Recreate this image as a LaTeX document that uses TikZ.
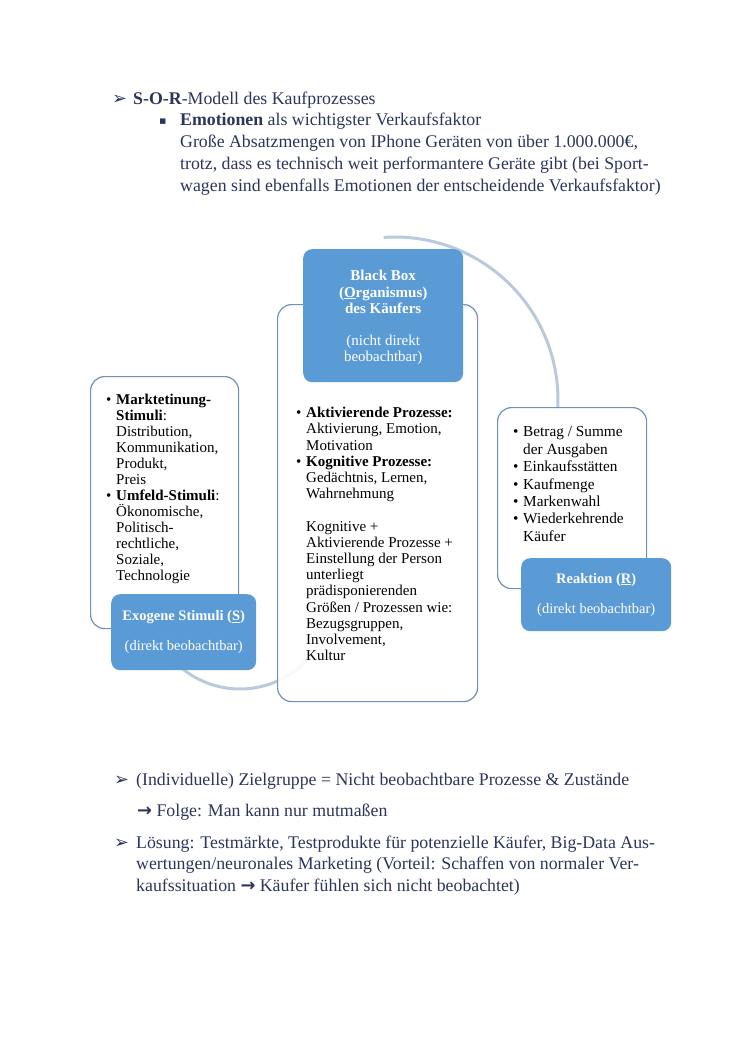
\documentclass[tikz,border=0pt]{standalone}
\usepackage{fontspec}
\setmainfont{Liberation Serif}
\newfontfamily\symfont{DejaVu Sans}
\definecolor{txtblue}{RGB}{44,54,92}
\definecolor{boxline}{RGB}{112,146,186}
\definecolor{arcgray}{RGB}{186,202,220}
\definecolor{labelblue}{RGB}{91,155,213}
\newcommand{\bul}{\makebox[10pt][l]{•}}
\newcommand{\ind}{\hspace*{10pt}}
\newcommand{\pfeil}{{\symfont\char"27A2}}
\begin{document}
\begin{tikzpicture}[x=1pt,y=-1pt,
  outtxt/.style={inner sep=0pt,text=txtblue,font=\fontsize{17.8}{21.7}\selectfont,anchor=base west},
  whitebox/.style={draw=boxline,line width=1.2pt,fill=white,fill opacity=0.9,rounded corners=14pt,anchor=north west,inner sep=0pt},
  labelbox/.style={fill=labelblue,rounded corners=9pt,anchor=north west,inner sep=0pt},
  arcline/.style={draw=arcgray,line width=3pt},
  boxtxt/.style={inner sep=0pt,align=left,anchor=north west}]
  \useasboundingbox[fill=white] (0,0) rectangle (750,1059);
  % text above the model
  \node[outtxt] (topmark) at (112,105) {\pfeil};
  \node[outtxt] (toptitle) at (133,105) {\textbf{S-O-R}-Modell des Kaufprozesses};
  \node[outtxt] (subbul) at (159,125) {{\symfont\fontsize{11}{11}\selectfont ▪}};
  \node[outtxt] (subtitle) at (180,126) {\textbf{Emotionen} als wichtigster Verkaufsfaktor};
  \foreach \y/\s [count=\i] in {148/{Große Absatzmengen von IPhone Geräten von über 1.000.000€,},
      170/{trotz, dass es technisch weit performantere Geräte gibt (bei Sport-},
      192/{wagen sind ebenfalls Emotionen der entscheidende Verkaufsfaktor)}} {
    \node[outtxt] (topline\i) at (180,\y) {\s};
  }
  % cycle arcs
  \draw[arcline] plot[domain=20:160,samples=50] ({240+92*cos(\x)},{597+92*sin(\x)});
  \draw[arcline] plot[domain=-94:3,samples=60] ({395+163*cos(\x)},{400+163*sin(\x)});
  % boxes
  \node[whitebox,minimum width=148pt,minimum height=252pt] (sbox) at (90,376) {};
  \node[whitebox,minimum width=200pt,minimum height=397pt] (obox) at (277,304) {};
  \node[whitebox,minimum width=149pt,minimum height=181pt] (rbox) at (497,407) {};
  \node[labelbox,minimum width=145pt,minimum height=76pt] (slabel) at (111,594) {};
  \node[labelbox,minimum width=160pt,minimum height=133pt] (olabel) at (303,249) {};
  \node[labelbox,minimum width=150pt,minimum height=73pt] (rlabel) at (521,558) {};
  % label texts
  \node[inner sep=0pt,align=center,text=white,font=\fontsize{15}{16.5}\selectfont,anchor=north]
    (otitle) at (olabel.north |- 0,270) {\textbf{Black Box}\\\textbf{(\underline{O}rganismus)}\\\textbf{des Käufers}\\[15pt](nicht direkt\\beobachtbar)};
  \node[inner sep=0pt,align=center,text=white,font=\fontsize{14.5}{30}\selectfont]
    (stitle) at (slabel.center) {\textbf{Exogene Stimuli (\underline{S})}\\(direkt beobachtbar)};
  \node[inner sep=0pt,align=center,text=white,font=\fontsize{14.5}{30}\selectfont]
    (rtitle) at (rlabel.center) {\textbf{Reaktion (\underline{R})}\\(direkt beobachtbar)};
  % box contents
  \node[boxtxt,font=\fontsize{15}{16}\selectfont] (stext) at (106,394) {%
    \bul\textbf{Marktetinung-}\\\ind\textbf{Stimuli}:\\\ind Distribution,\\\ind Kommunikation,\\\ind Produkt,\\\ind Preis\\
    \bul\textbf{Umfeld-Stimuli}:\\\ind Ökonomische,\\\ind Politisch-\\\ind rechtliche,\\\ind Soziale,\\\ind Technologie};
  \node[boxtxt,font=\fontsize{15}{16.2}\selectfont] (otext) at (296,407) {%
    \bul\textbf{Aktivierende Prozesse:}\\\ind Aktivierung, Emotion,\\\ind Motivation\\
    \bul\textbf{Kognitive Prozesse:}\\\ind Gedächtnis, Lernen,\\\ind Wahrnehmung\\[16.2pt]
    \ind Kognitive +\\\ind Aktivierende Prozesse +\\\ind Einstellung der Person\\\ind unterliegt\\
    \ind prädisponierenden\\\ind Größen / Prozessen wie:\\\ind Bezugsgruppen,\\\ind Involvement,\\\ind Kultur};
  \node[boxtxt,font=\fontsize{15.3}{17.4}\selectfont] (rtext) at (513,426.5) {%
    \bul Betrag / Summe\\\ind der Ausgaben\\\bul Einkaufsstätten\\\bul Kaufmenge\\\bul Markenwahl\\
    \bul Wiederkehrende\\\ind Käufer};
  % text below the model
  \node[outtxt] (botmark1) at (114,785) {\pfeil};
  \node[outtxt] (botline1) at (136,785) {(Individuelle) Zielgruppe = Nicht beobachtbare Prozesse \& Zustände};
  \node[outtxt] (folge) at (137,816) {{\symfont\bfseries →} Folge: Man kann nur mutmaßen};
  \node[outtxt] (botmark2) at (114,848) {\pfeil};
  \foreach \y/\s [count=\i] in {848/{Lösung: Testmärkte, Testprodukte für potenzielle Käufer, Big-Data Aus-},
      869.5/{wertungen/neuronales Marketing (Vorteil: Schaffen von normaler Ver-},
      891/{kaufssituation {\symfont\bfseries →} Käufer fühlen sich nicht beobachtet)}} {
    \node[outtxt] (loesung\i) at (136,\y) {\s};
  }
\end{tikzpicture}
\end{document}
